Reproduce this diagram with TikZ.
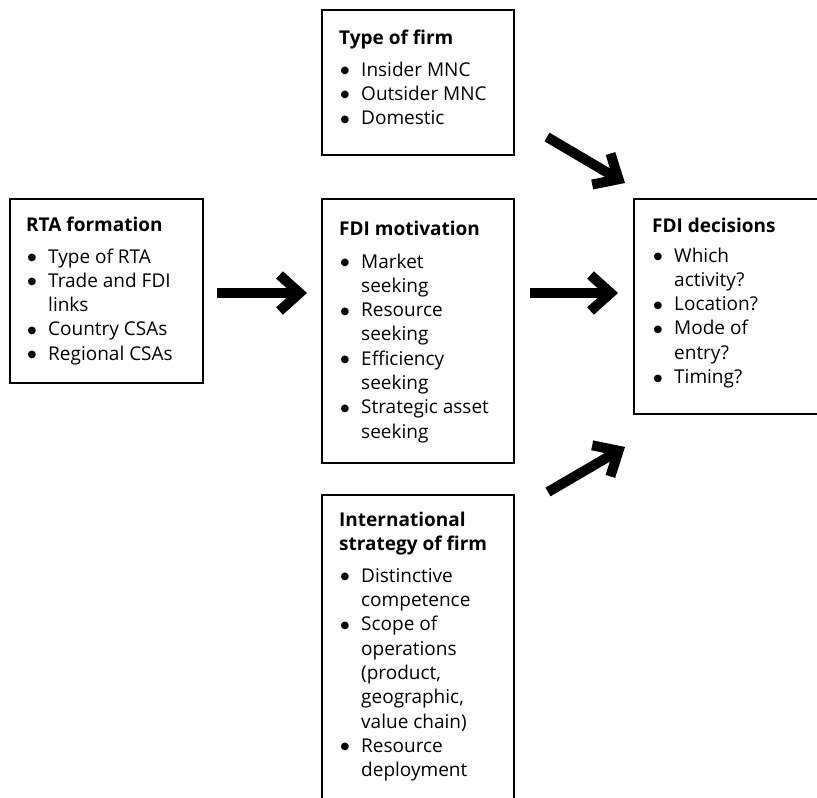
\documentclass[tikz,border=0pt]{standalone}
\usepackage{fontspec}
\setmainfont{Open Sans}
\newfontfamily\dejavu{DejaVu Sans}
\usetikzlibrary{arrows.meta,calc}
\newcommand{\fs}{\fontsize{19pt}{24.3pt}\selectfont}
\newcommand{\bigbul}{\raisebox{2.5pt}{\dejavu\fontsize{10pt}{0pt}\selectfont ●}}
\newcommand{\itm}[1]{\makebox[22pt][l]{\hspace{1.5pt}\bigbul}#1}
\newcommand{\cnt}[1]{\hspace{22pt}#1}
\begin{document}
\begin{tikzpicture}[x=1pt,y=-1pt,
  box/.style={draw=black, line width=1.2pt, anchor=north west, inner sep=0pt, outer sep=0pt},
  txt/.style={anchor=base west, inner sep=0pt, font=\fs},
  bigarrow/.style={line width=10pt, line cap=butt, -{Straight Barb[sharp,length=20pt,width=36pt]}}]
\useasboundingbox (0,0) rectangle (817,798);
\clip (0,0) rectangle (817,798);
% boxes
\node[box, minimum width=193pt, minimum height=184pt] (rta) at (10,199) {};
\node[box, minimum width=192pt, minimum height=145pt] (firm) at (322,10) {};
\node[box, minimum width=192pt, minimum height=264pt] (mot) at (322,199) {};
\node[box, minimum width=192pt, minimum height=330pt] (int) at (322,495) {};
\node[box, minimum width=210pt, minimum height=215pt] (dec) at (634,199) {};
% texts
\node[txt] (rtatxt) at (26,231) {\begin{tabular}[t]{@{}l@{}}
  \textbf{RTA formation}\\[7.7pt]
  \itm{Type of RTA}\\
  \itm{Trade and FDI}\\
  \cnt{links}\\
  \itm{Country CSAs}\\
  \itm{Regional CSAs}
\end{tabular}};
\node[txt] (firmtxt) at (339,44) {\begin{tabular}[t]{@{}l@{}}
  \textbf{Type of firm}\\[7.7pt]
  \itm{Insider MNC}\\
  \itm{Outsider MNC}\\
  \itm{Domestic}
\end{tabular}};
\node[txt] (mottxt) at (339,235) {\begin{tabular}[t]{@{}l@{}}
  \textbf{FDI motivation}\\[8.7pt]
  \itm{Market}\\
  \cnt{seeking}\\
  \itm{Resource}\\
  \cnt{seeking}\\
  \itm{Efficiency}\\
  \cnt{seeking}\\
  \itm{Strategic asset}\\
  \cnt{seeking}
\end{tabular}};
\node[txt] (inttxt) at (339,526) {\begin{tabular}[t]{@{}l@{}}
  \textbf{International}\\
  \textbf{strategy of firm}\\[7.7pt]
  \itm{Distinctive}\\
  \cnt{competence}\\
  \itm{Scope of}\\
  \cnt{operations}\\
  \cnt{(product,}\\
  \cnt{geographic,}\\
  \cnt{value chain)}\\
  \itm{Resource}\\
  \cnt{deployment}
\end{tabular}};
\node[txt] (dectxt) at (652,232) {\begin{tabular}[t]{@{}l@{}}
  \textbf{FDI decisions}\\[5.7pt]
  \itm{Which}\\
  \cnt{activity?}\\
  \itm{Location?}\\
  \itm{Mode of}\\
  \cnt{entry?}\\
  \itm{Timing?}
\end{tabular}};
% arrows
\coordinate (a1s) at (217,293);
\coordinate (a1e) at (307,293);
\coordinate (a2s) at (530,293);
\coordinate (a2e) at (618,293);
\coordinate (a3s) at (547,137);
\coordinate (a3e) at (625,183);
\coordinate (a4s) at (548,492);
\coordinate (a4e) at (625,447);
\draw[bigarrow] (a1s) -- (a1e);
\draw[bigarrow] (a2s) -- (a2e);
\draw[bigarrow] (a3s) -- (a3e);
\draw[bigarrow] (a4s) -- (a4e);
\end{tikzpicture}
\end{document}
